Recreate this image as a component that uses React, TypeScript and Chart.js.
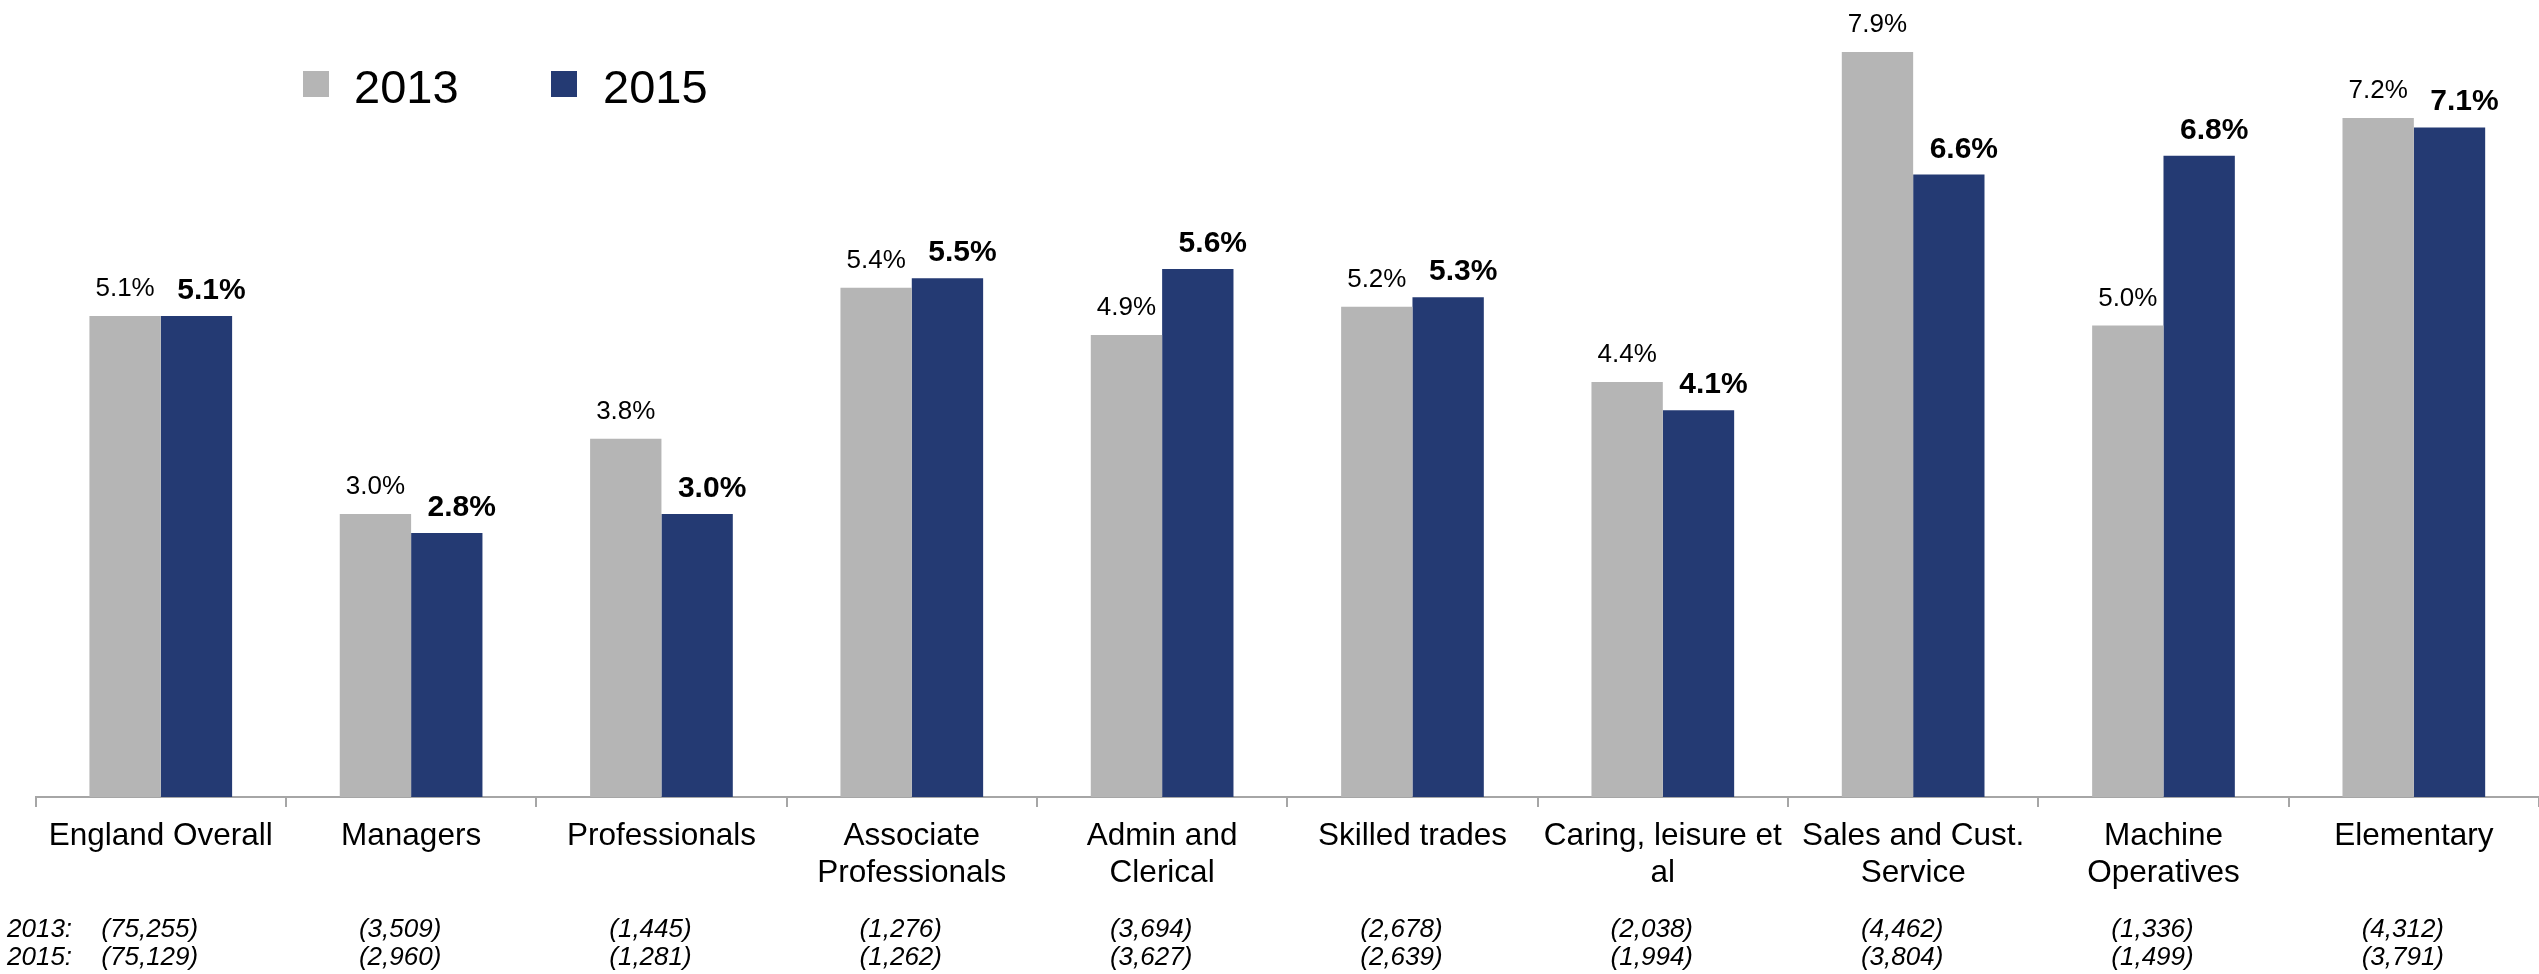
import React, { useEffect, useRef } from "react";
import { Chart, registerables } from "chart.js";

Chart.register(...registerables);

const categories: string[][] = [
  ["England Overall"],
  ["Managers"],
  ["Professionals"],
  ["Associate", "Professionals"],
  ["Admin and", "Clerical"],
  ["Skilled trades"],
  ["Caring, leisure et", "al"],
  ["Sales and Cust.", "Service"],
  ["Machine", "Operatives"],
  ["Elementary"],
];
const values2013: number[] = [5.1, 3.0, 3.8, 5.4, 4.9, 5.2, 4.4, 7.9, 5.0, 7.2];
const values2015: number[] = [5.1, 2.8, 3.0, 5.5, 5.6, 5.3, 4.1, 6.6, 6.8, 7.1];
const counts2013: string[] = ["(75,255)", "(3,509)", "(1,445)", "(1,276)", "(3,694)", "(2,678)", "(2,038)", "(4,462)", "(1,336)", "(4,312)"];
const counts2015: string[] = ["(75,129)", "(2,960)", "(1,281)", "(1,262)", "(3,627)", "(2,639)", "(1,994)", "(3,804)", "(1,499)", "(3,791)"];
const seriesNames: string[] = ["2013", "2015"];

const GRAY = "#b5b5b5";
const NAVY = "#243a73";
const FONT = "'Liberation Sans', Arial, sans-serif";

const overlayPlugin = {
  id: "overlay",
  afterDatasetsDraw(chart: any) {
    const ctx: CanvasRenderingContext2D = chart.ctx;
    ctx.save();
    ctx.fillStyle = "#000";
    ctx.textBaseline = "alphabetic";
    // value labels
    const m0 = chart.getDatasetMeta(0);
    const m1 = chart.getDatasetMeta(1);
    ctx.textAlign = "center";
    ctx.font = `26px ${FONT}`;
    m0.data.forEach((bar: any, i: number) => {
      ctx.fillText(values2013[i].toFixed(1) + "%", bar.x, bar.y - 20);
    });
    ctx.font = `bold 30px ${FONT}`;
    m1.data.forEach((bar: any, i: number) => {
      ctx.fillText(values2015[i].toFixed(1) + "%", bar.x + 15, bar.y - 17);
    });
    // category labels
    const xs = chart.scales.x;
    ctx.font = `31.5px ${FONT}`;
    categories.forEach((lines, i) => {
      const cx = xs.getPixelForValue(i);
      lines.forEach((ln, k) => {
        ctx.fillText(ln, cx, 845 + k * 36.7);
      });
    });
    // counts
    ctx.font = `italic 26px ${FONT}`;
    categories.forEach((_, i) => {
      const cx = xs.getPixelForValue(i) - 11;
      ctx.fillText(counts2013[i], cx, 937);
      ctx.fillText(counts2015[i], cx, 965);
    });
    ctx.textAlign = "left";
    ctx.fillText("2013:", 7, 937);
    ctx.fillText("2015:", 7, 965);
    // legend
    ctx.fillStyle = GRAY;
    ctx.fillRect(303, 71, 26, 26);
    ctx.fillStyle = NAVY;
    ctx.fillRect(551, 71, 26, 26);
    ctx.fillStyle = "#000";
    ctx.font = `47px ${FONT}`;
    ctx.fillText(seriesNames[0], 354, 103);
    ctx.fillText(seriesNames[1], 603, 103);
    ctx.restore();
  },
};

export default function App() {
  const ref = useRef<HTMLCanvasElement>(null);
  useEffect(() => {
    if (!ref.current) return;
    const chart = new Chart(ref.current, {
      type: "bar",
      data: {
        labels: categories.map((c) => c.join(" ")),
        datasets: [
          { label: seriesNames[0], data: values2013, backgroundColor: GRAY, borderWidth: 0, categoryPercentage: 0.57, barPercentage: 1 },
          { label: seriesNames[1], data: values2015, backgroundColor: NAVY, borderWidth: 0, categoryPercentage: 0.57, barPercentage: 1 },
        ],
      },
      options: {
        responsive: false,
        animation: false,
        devicePixelRatio: 1,
        layout: { padding: { left: 35.6, right: 0, top: 42.6, bottom: 167 } },
        plugins: { legend: { display: false }, tooltip: { enabled: false } },
        scales: {
          x: {
            offset: true,
            grid: { offset: true, drawOnChartArea: false, drawTicks: true, tickLength: 10, color: "#a6a6a6", lineWidth: 2 },
            border: { display: true, color: "#a6a6a6", width: 2 },
            ticks: { display: false },
          },
          y: { display: false, min: 0, max: 8 },
        },
      },
      plugins: [overlayPlugin],
    });
    return () => chart.destroy();
  }, []);
  return (
    <div style={{ position: "absolute", left: 0, top: 0, width: 2539, height: 974, background: "#fff" }}>
      <canvas ref={ref} width={2539} height={974} />
    </div>
  );
}
